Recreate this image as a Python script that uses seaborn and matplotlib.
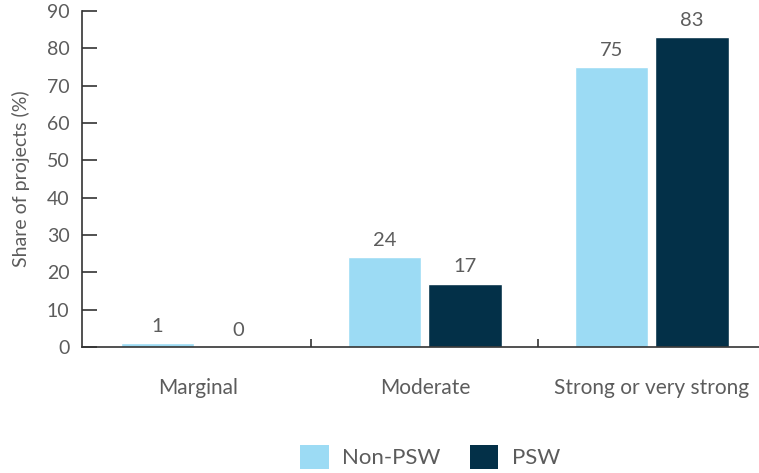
import matplotlib
matplotlib.use("Agg")
import matplotlib.pyplot as plt
import seaborn as sns
import pandas as pd
from matplotlib.patches import Patch

categories = ["Marginal", "Moderate", "Strong or very strong"]
non_psw = [1, 24, 75]
psw = [0, 17, 83]
series_names = ["Non-PSW", "PSW"]
y_ticks = [0, 10, 20, 30, 40, 50, 60, 70, 80, 90]

LIGHT = "#9CDBF4"
DARK = "#033048"
TEXT = "#5c5c5c"
AXIS = "#333333"

sns.set_theme(style="white")
plt.rcParams["font.family"] = ["Lato", "DejaVu Sans"]

df = pd.DataFrame({
    "category": categories * 2,
    "series": [series_names[0]] * 3 + [series_names[1]] * 3,
    "value": non_psw + psw,
})

fig = plt.figure(figsize=(7.59, 4.73), dpi=100)
ax = fig.add_axes([82 / 759, 126 / 473, (759 - 82) / 759, (347 - 11) / 473])

sns.barplot(data=df, x="category", y="value", hue="series",
            palette=[LIGHT, DARK], width=0.71, gap=0.085,
            saturation=1, legend=False, ax=ax)

for cont in ax.containers:
    for bar in cont:
        h = bar.get_height()
        ax.annotate(f"{h:g}", (bar.get_x() + bar.get_width() / 2, h),
                    xytext=(0, 6), textcoords="offset points",
                    ha="center", va="bottom", fontsize=14.5, color=TEXT)

ax.set_ylim(0, 90)
ax.set_xlim(-0.51, 2.472)
ax.set_yticks(y_ticks)
ax.set_ylabel("Share of projects (%)", fontsize=14, color=TEXT, labelpad=12)
ax.set_xlabel("")

for s in ["top", "right"]:
    ax.spines[s].set_visible(False)
for s in ["left", "bottom"]:
    ax.spines[s].set_color(AXIS)
    ax.spines[s].set_linewidth(1.2)

ax.tick_params(axis="y", direction="in", length=11, width=1.2, color=AXIS,
               labelsize=14, labelcolor=TEXT, pad=9, left=True)
# category labels without ticks, separator ticks between groups
ax.set_xticks([0, 1, 2])
ax.set_xticklabels(categories)
ax.tick_params(axis="x", length=0, labelsize=15, labelcolor=TEXT, pad=22)
ax.set_xticks([0.5, 1.5], minor=True)
ax.tick_params(axis="x", which="minor", direction="in", length=6, width=1.2,
               color=AXIS, bottom=True)

handles = [Patch(facecolor=LIGHT, edgecolor="none"),
           Patch(facecolor=DARK, edgecolor="none")]
fig.legend(handles, series_names, loc="center", ncol=2,
           bbox_to_anchor=(430 / 759, 1 - 457 / 473), frameon=False,
           fontsize=16, labelcolor=TEXT, handlelength=1.3, handleheight=1.3,
           columnspacing=1.3, handletextpad=0.6, borderpad=0)

fig.savefig("out.png", dpi=100)
